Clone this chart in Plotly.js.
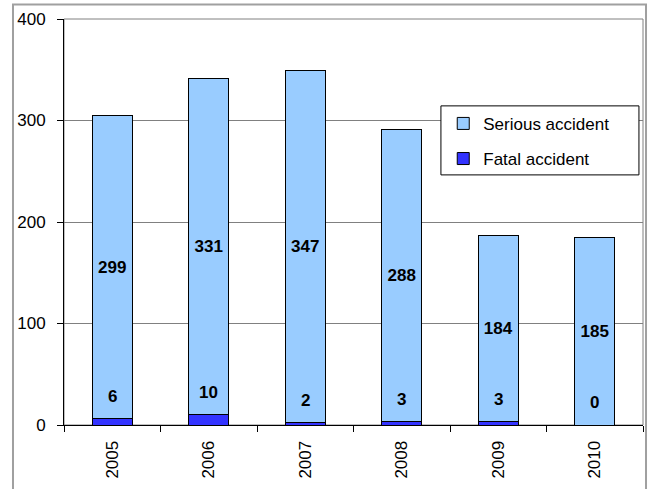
<!DOCTYPE html>
<html>
<head>
<meta charset="utf-8">
<script src="https://cdn.plot.ly/plotly-3.0.1.min.js"></script>
<style>
  html, body { margin: 0; padding: 0; background: #fff; }
  #chart { width: 652px; height: 489px; }
</style>
</head>
<body>
<div id="chart"></div>
<script>
// accidents per year
const years = ['2005', '2006', '2007', '2008', '2009', '2010'];
const fatal = [6, 10, 2, 3, 3, 0];
const serious = [299, 331, 347, 288, 184, 185];

const font = 'Arial, "Liberation Sans", sans-serif';

let traces = [
    {
        type: 'bar',
        name: 'Fatal accident',
        legendgroup: 'f',
        legendrank: 2,
        x: years,
        y: fatal,
        marker: {color: '#3333ff', line: {color: '#000', width: 1}},
        hoverinfo: 'none'
    },
    {
        type: 'bar',
        name: 'Serious accident',
        legendgroup: 's',
        legendrank: 1,
        x: years,
        y: serious,
        text: serious.map(String),
        textposition: 'inside',
        insidetextanchor: 'middle',
        constraintext: 'none',
        textfont: {family: font, size: 17, color: '#000', weight: 'bold'},
        marker: {color: '#99ccff', line: {color: '#000', width: 1}},
        hoverinfo: 'none'
    }
];

// fatal numbers sit just above their segment (x given as category index)
let notes = years.map((yr, i) => ({
    x: i,
    y: fatal[i],
    xref: 'x',
    yref: 'y',
    text: '<b>' + fatal[i] + '</b>',
    showarrow: false,
    yanchor: 'bottom',
    yshift: 11,
    font: {family: font, size: 17, color: '#000'}
}));

let layout = {
    width: 652,
    height: 489,
    margin: {l: 64, r: 9, t: 19, b: 64},
    paper_bgcolor: '#fff',
    plot_bgcolor: '#fff',
    barmode: 'stack',
    bargap: 0.585,
    font: {family: font, size: 17, color: '#000'},
    showlegend: true,
    legend: {
        x: 0.655,
        y: 0.786,
        xanchor: 'left',
        yanchor: 'top',
        traceorder: 'grouped',
        tracegroupgap: 10,
        bgcolor: 'rgba(0,0,0,0)',
        borderwidth: 0,
        font: {family: font, size: 17, color: '#000'}
    },
    xaxis: {
        type: 'category',
        range: [-0.5, 5.5],
        showline: true,
        linecolor: '#000',
        linewidth: 1,
        ticks: 'outside',
        tickson: 'boundaries',
        ticklen: 6,
        tickcolor: '#000',
        tickangle: -90,
        ticklabelstandoff: 8,
        showgrid: false,
        zeroline: false
    },
    yaxis: {
        range: [0, 400],
        dtick: 100,
        showline: true,
        linecolor: '#000',
        linewidth: 1,
        ticks: 'outside',
        ticklen: 6,
        tickcolor: '#000',
        ticklabelstandoff: 8,
        showgrid: true,
        gridcolor: '#808080',
        gridwidth: 1,
        zeroline: false
    },
    shapes: [
        // plot area border
        {type: 'rect', xref: 'paper', yref: 'paper', x0: 0, x1: 1, y0: 0, y1: 1,
         line: {color: '#808080', width: 1}, layer: 'below'},
        // chart area border
        {type: 'rect', xref: 'paper', yref: 'paper', x0: -0.0881, x1: 1.0052, y0: -0.3, y1: 1.0357,
         line: {color: '#a0a0a0', width: 2}},
        // legend box
        {type: 'rect', xref: 'paper', yref: 'paper', x0: 0.651, x1: 0.993, y0: 0.616, y1: 0.786,
         fillcolor: '#fff', line: {color: '#000', width: 1}, layer: 'above'}
    ],
    annotations: notes
};

Plotly.newPlot('chart', traces, layout, {displayModeBar: false, staticPlot: true});
</script>
</body>
</html>
